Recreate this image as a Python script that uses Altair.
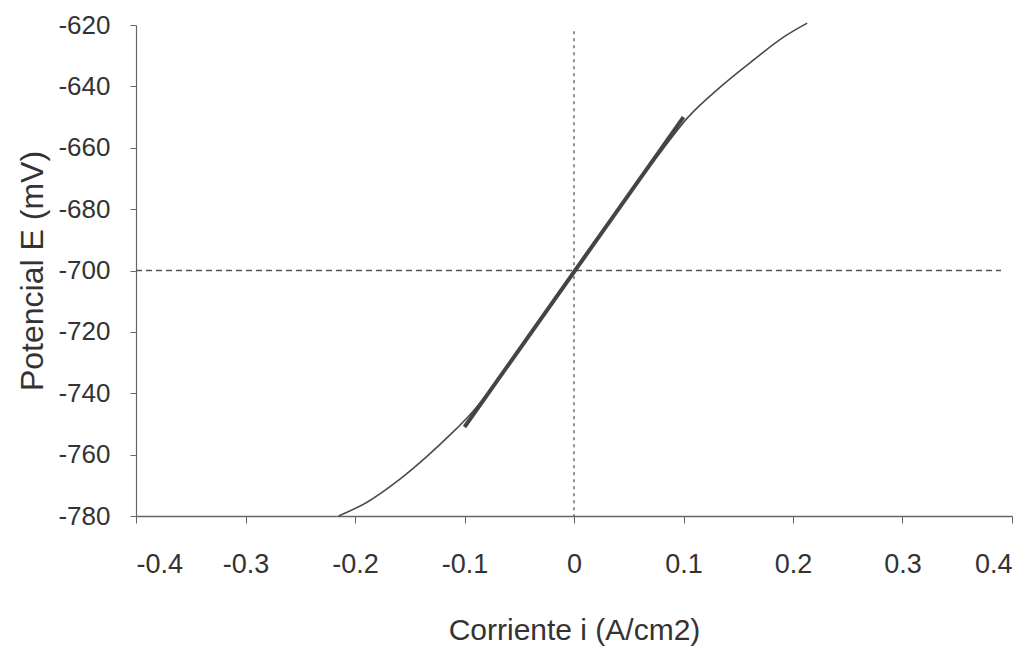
import altair as alt
import pandas as pd

# Polarization curve
curve_i = [-0.215, -0.189, -0.159, -0.134, -0.113, -0.095, -0.070, -0.035, 0.000,
           0.030, 0.058, 0.080, 0.103, 0.134, 0.164, 0.192, 0.213]
curve_E = [-780.0, -775.5, -768.0, -760.5, -753.5, -747.0, -736.0, -718.0, -700.0,
           -685.0, -671.5, -661.0, -650.5, -640.1, -631.4, -623.8, -619.4]

# Linear fit segment (thick)
fit_i = [-0.1, 0.1]
fit_E = [-751.0, -650.0]

# Reference dashed lines
h_i = [-0.4, 0.39]
h_E = [-700.0, -700.0]
v_i = [0.0, 0.0]
v_E = [-622.0, -780.0]

x_ticks = [-0.4, -0.3, -0.2, -0.1, 0.0, 0.1, 0.2, 0.3, 0.4]
y_ticks = [-780, -760, -740, -720, -700, -680, -660, -640, -620]

curve_df = pd.DataFrame({"i": curve_i, "E": curve_E, "o": list(range(len(curve_i)))})
fit_df = pd.DataFrame({"i": fit_i, "E": fit_E, "o": [0, 1]})
h_df = pd.DataFrame({"i": h_i, "E": h_E, "o": [0, 1]})
v_df = pd.DataFrame({"i": v_i, "E": v_E, "o": [0, 1]})

TXT = "#333333"
FONT = "Liberation Sans"

xs = alt.Scale(domain=[-0.4, 0.4], nice=False, zero=False)
ys = alt.Scale(domain=[-780, -620], nice=False, zero=False)

x_axis = alt.Axis(
    values=x_ticks, labelExpr="'' + datum.value", grid=False,
    tickSize=7, labelPadding=28, labelFontSize=27, labelFont=FONT,
    labelColor=TXT, domainColor="#666666", tickColor="#666666", domainWidth=1.5,
    title="Corriente i (A/cm2)", titleFont=FONT, titleFontSize=30,
    titleFontWeight="normal", titleColor=TXT, titlePadding=38,
)
y_axis = alt.Axis(
    values=y_ticks, labelExpr="'' + datum.value", grid=False,
    tickSize=6, labelPadding=20, labelFontSize=26, labelFont=FONT,
    labelColor=TXT, domainColor="#666666", tickColor="#666666", domainWidth=1.2,
    title="Potencial E (mV)", titleFont=FONT, titleFontSize=32,
    titleFontWeight="normal", titleColor=TXT, titlePadding=8,
)

base_x = alt.X("i:Q", scale=xs, axis=x_axis)
base_y = alt.Y("E:Q", scale=ys, axis=y_axis)

hline = alt.Chart(h_df).mark_line(color="#555555", strokeWidth=1.3, strokeDash=[6, 4]).encode(
    x=alt.X("i:Q", scale=xs), y=alt.Y("E:Q", scale=ys), order="o:Q")
vline = alt.Chart(v_df).mark_line(color="#555555", strokeWidth=1.3, strokeDash=[3, 4]).encode(
    x=alt.X("i:Q", scale=xs), y=alt.Y("E:Q", scale=ys), order="o:Q")
curve = alt.Chart(curve_df).mark_line(color="#4a4a4a", strokeWidth=1.6, interpolate="monotone",
                                      clip=False).encode(
    x=base_x, y=base_y, order="o:Q")
fit = alt.Chart(fit_df).mark_line(color="#444444", strokeWidth=4).encode(
    x=alt.X("i:Q", scale=xs), y=alt.Y("E:Q", scale=ys), order="o:Q")

chart = alt.layer(curve, hline, vline, fit).properties(
    width=876, height=491,
    autosize=alt.AutoSizeParams(type="none"),
    padding={"left": 128, "top": 17, "right": 16, "bottom": 142},
    background="white",
).configure_view(stroke=None)

chart.save("out.html", embed_options={"renderer": "svg", "actions": False})
